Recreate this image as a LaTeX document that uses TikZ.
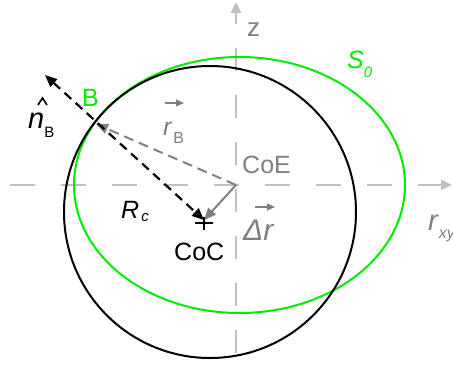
\documentclass[tikz,border=0pt]{standalone}
\usepackage{fontspec}
\setmainfont{Liberation Sans}
\usetikzlibrary{arrows.meta}
\definecolor{lgreen}{RGB}{0,235,0}
\definecolor{axgray}{RGB}{192,192,192}
\definecolor{dgray}{RGB}{128,128,128}
\tikzset{bigtip/.tip={Triangle[length=12pt,width=10pt]}}
\begin{document}
\begin{tikzpicture}[x=1pt,y=-1pt,
  axisline/.style={axgray,line width=2.6pt,-{Triangle[length=11pt,width=10pt]}},
  lbl/.style={inner sep=0pt,anchor=base west,font=\fontsize{25}{30}\selectfont},
  vecarrow/.style={dgray,line width=1.3pt,-{Triangle[length=8pt,width=7pt]}}]
\useasboundingbox (0,0) rectangle (453,365);
% axes
\coordinate (xs) at (10,185);
\coordinate (xe) at (452,185);
\coordinate (zs) at (236,353);
\coordinate (ze) at (236,2);
\draw[axisline,dash pattern=on 25pt off 26pt] (xs) -- (xe);
\draw[axisline,dash pattern=on 23pt off 24pt] (zs) -- (ze);
% shapes
\coordinate (CoEpt) at (236,185);
\coordinate (CoCpt) at (204,220);
\coordinate (Bpt) at (96,124);
\coordinate (ntip) at (45,75);
\draw[lgreen,line width=2pt] (239.5,185) ellipse[x radius=165.5pt,y radius=128pt];
\draw[black,line width=2pt] (210,212) circle[radius=146pt];
% vectors
\draw[dgray,line width=2pt,dash pattern=on 10pt off 6pt,-{bigtip}] (CoEpt) -- (Bpt);
\draw[black,line width=2.2pt,dash pattern=on 9pt off 6pt,{bigtip}-{bigtip}] (ntip) -- (CoCpt);
\draw[dgray,line width=2pt,-{bigtip}] (CoEpt) -- (CoCpt);
\draw[black,line width=1.4pt] ([xshift=-9pt,yshift=-3pt]CoCpt) -- ([xshift=9pt,yshift=-3pt]CoCpt)
  ([yshift=3pt]CoCpt) -- ([yshift=-10pt]CoCpt);
% labels
\node[lbl,dgray,font=\fontsize{26}{30}\selectfont] (zlbl) at (247,36) {z};
\node[lbl,dgray] (coe) at (242,173) {CoE};
\node[lbl] (coc) at (174,260) {CoC};
\node[lbl,lgreen] (blbl) at (82,106) {B};
\node[lbl,lgreen] (s0) at (347,68) {\textit{S}\raisebox{-9pt}{\fontsize{15}{18}\selectfont\textit{0}}};
\node[lbl,dgray] (rb) at (163,135) {\textit{r}\kern1pt\raisebox{-8pt}{\fontsize{16}{18}\selectfont B}};
\node[lbl] (rc) at (121,218) {\textit{R}\kern2pt\raisebox{-3pt}{\fontsize{15}{18}\selectfont\textit{c}}};
\node[lbl,dgray,font=\fontsize{30}{36}\selectfont] (dr) at (243,240) {\textit{Δr}};
\node[lbl,font=\fontsize{29}{34}\selectfont] (nb) at (28,128) {\textit{n}\raisebox{-9pt}{\fontsize{15}{18}\selectfont B}};
\node[lbl,dgray,font=\fontsize{29}{34}\selectfont] (rxy) at (428,230) {\textit{r}\raisebox{-8pt}{\fontsize{16}{18}\selectfont\textit{xy}}};
% hat and vector marks
\draw[black,line width=1.6pt] ([xshift=10pt,yshift=23pt]nb.base west) -- ++(4.5,-7) -- ++(4.5,7);
\draw[vecarrow] ([xshift=2pt,yshift=32pt]rb.base west) -- ++(19,0);
\draw[vecarrow] ([xshift=12pt,yshift=33pt]dr.base west) -- ++(20,0);
\end{tikzpicture}
\end{document}
